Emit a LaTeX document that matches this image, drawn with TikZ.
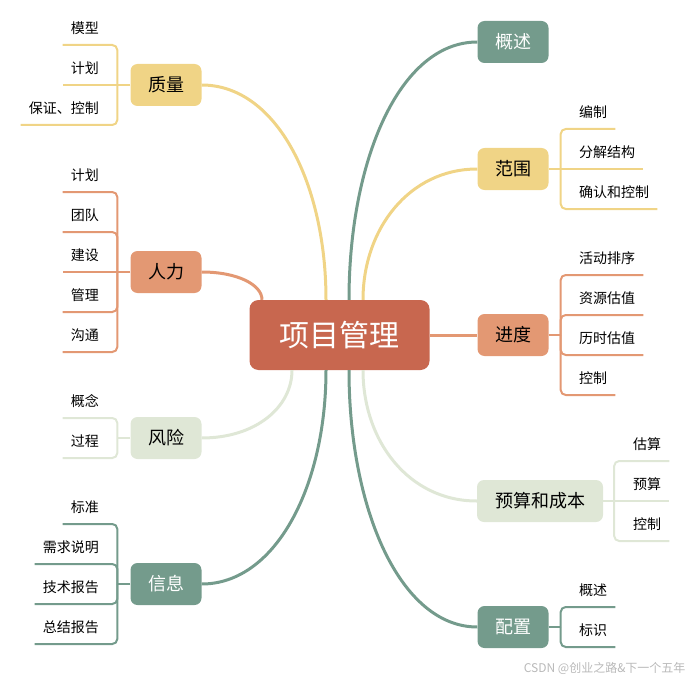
\documentclass[tikz,border=0pt]{standalone}
\usepackage{fontspec}
\setmainfont{Noto Sans CJK SC}
\usetikzlibrary{positioning}

\definecolor{rootc}{HTML}{C8674F}
\definecolor{yelc}{HTML}{F0D486}
\definecolor{orac}{HTML}{E39873}
\definecolor{grnc}{HTML}{749B8C}
\definecolor{palec}{HTML}{DFE7D6}

\begin{document}
\begin{tikzpicture}[x=1pt, y=-1pt,
    branch/.style={rounded corners=7pt, minimum width=71pt, minimum height=42pt, inner sep=0pt, font=\fontsize{18}{22}\selectfont},
    leafl/.style={anchor=south east, minimum height=34pt, inner xsep=8pt, inner ysep=0pt, font=\fontsize{14}{17}\selectfont},
    leafr/.style={leafl, anchor=south west},
    trunk/.style={line width=3pt},
    twig/.style={line width=2pt, rounded corners=5pt},
  ]
  \useasboundingbox (0,0) rectangle (696,682);

  \node[fill=rootc, text=white, rounded corners=9pt, minimum width=180pt, minimum height=70pt, font=\fontsize{30}{36}\selectfont] (root) at (339.5,335) {项目管理};

  % left branches
  \node[branch, fill=yelc]  (zl) at (166,85)  {质量};
  \node[branch, fill=orac]  (rl) at (166,272) {人力};
  \node[branch, fill=palec] (fx) at (166,438) {风险};
  \node[branch, fill=grnc, text=white] (xx) at (166,584) {信息};

  % right branches
  \node[branch, fill=grnc, text=white] (gs) at (513,42) {概述};
  \node[branch, fill=yelc]  (fw) at (513,169) {范围};
  \node[branch, fill=orac]  (jd) at (513,335) {进度};
  \node[branch, fill=palec, minimum width=126pt] (ys) at (540,501) {预算和成本};
  \node[branch, fill=grnc, text=white] (pz) at (513,627) {配置};

  % leaves
  \node[leafl] (zl1) at (107,45)  {模型};
  \node[leafl] (zl2) at (107,85)  {计划};
  \node[leafl] (zl3) at (107,125) {保证、控制};

  \node[leafl] (rl1) at (107,192) {计划};
  \node[leafl] (rl2) at (107,232) {团队};
  \node[leafl] (rl3) at (107,272) {建设};
  \node[leafl] (rl4) at (107,312) {管理};
  \node[leafl] (rl5) at (107,352) {沟通};

  \node[leafl] (fx1) at (107,418) {概念};
  \node[leafl] (fx2) at (107,458) {过程};

  \node[leafl] (xx1) at (107,524) {标准};
  \node[leafl] (xx2) at (107,564) {需求说明};
  \node[leafl] (xx3) at (107,604) {技术报告};
  \node[leafl] (xx4) at (107,644) {总结报告};

  \node[leafr] (fw1) at (571,129) {编制};
  \node[leafr] (fw2) at (571,169) {分解结构};
  \node[leafr] (fw3) at (571,209) {确认和控制};

  \node[leafr] (jd1) at (571,275) {活动排序};
  \node[leafr] (jd2) at (571,315) {资源估值};
  \node[leafr] (jd3) at (571,355) {历时估值};
  \node[leafr] (jd4) at (571,395) {控制};

  \node[leafr] (ys1) at (625,461) {估算};
  \node[leafr] (ys2) at (625,501) {预算};
  \node[leafr] (ys3) at (625,541) {控制};

  \node[leafr] (pz1) at (571,607) {概述};
  \node[leafr] (pz2) at (571,647) {标识};

  % trunk curves
  \coordinate (t1) at ([xshift=-13.5pt]root.north);
  \coordinate (t2) at ([xshift=9.5pt]root.north);
  \coordinate (t3) at ([xshift=23.5pt]root.north);
  \coordinate (t4) at ([xshift=-77.5pt]root.north);
  \coordinate (b1) at ([xshift=-47.5pt]root.south);
  \coordinate (b2) at ([xshift=-13.5pt]root.south);
  \coordinate (b3) at ([xshift=9.5pt]root.south);
  \coordinate (b4) at ([xshift=23.5pt]root.south);

  \draw[trunk, yelc]  (t1) .. controls +(0,-116) and +(75,0) .. (zl.east);
  \draw[trunk, grnc]  (t2) .. controls +(0,-139) and +(-78,0) .. (gs.west);
  \draw[trunk, yelc]  (t3) .. controls +(0,-71) and +(-68,0) .. (fw.west);
  \draw[trunk, orac]  (t4) .. controls +(0,-15) and +(36,0) .. (rl.east);
  \draw[trunk, orac]  (root.east) -- (jd.west);
  \draw[trunk, palec] (b1) .. controls +(0,37) and +(54,0) .. (fx.east);
  \draw[trunk, grnc]  (b2) .. controls +(0,116) and +(74,0) .. (xx.east);
  \draw[trunk, grnc]  (b3) .. controls +(0,139) and +(-77,0) .. (pz.west);
  \draw[trunk, palec] (b4) .. controls +(0,71) and +(-68,0) .. (ys.west);

  % twigs
  \draw[twig, yelc] (zl.west) -- ++(-13,0) coordinate (zlj);
  \draw[twig, yelc] (zlj) |- (zl1.south east) -- (zl1.south west);
  \draw[twig, yelc] (zlj) -- (zl2.south west);
  \draw[twig, yelc] (zlj) |- (zl3.south east) -- (zl3.south west);

  \draw[twig, orac] (rl.west) -- ++(-13,0) coordinate (rlj);
  \draw[twig, orac] (rlj) |- (rl1.south east) -- (rl1.south west);
  \draw[twig, orac] (rlj) |- (rl2.south east) -- (rl2.south west);
  \draw[twig, orac] (rlj) -- (rl3.south west);
  \draw[twig, orac] (rlj) |- (rl4.south east) -- (rl4.south west);
  \draw[twig, orac] (rlj) |- (rl5.south east) -- (rl5.south west);

  \draw[twig, palec] (fx.west) -- ++(-13,0) coordinate (fxj);
  \draw[twig, palec] (fxj) |- (fx1.south east) -- (fx1.south west);
  \draw[twig, palec] (fxj) |- (fx2.south east) -- (fx2.south west);

  \draw[twig, grnc] (xx.west) -- ++(-13,0) coordinate (xxj);
  \draw[twig, grnc] (xxj) |- (xx1.south east) -- (xx1.south west);
  \draw[twig, grnc] (xxj) |- (xx2.south east) -- (xx2.south west);
  \draw[twig, grnc] (xxj) |- (xx3.south east) -- (xx3.south west);
  \draw[twig, grnc] (xxj) |- (xx4.south east) -- (xx4.south west);

  \draw[twig, yelc] (fw.east) -- ++(12,0) coordinate (fwj);
  \draw[twig, yelc] (fwj) |- (fw1.south west) -- (fw1.south east);
  \draw[twig, yelc] (fwj) -- (fw2.south east);
  \draw[twig, yelc] (fwj) |- (fw3.south west) -- (fw3.south east);

  \draw[twig, orac] (jd.east) -- ++(12,0) coordinate (jdj);
  \draw[twig, orac] (jdj) |- (jd1.south west) -- (jd1.south east);
  \draw[twig, orac] (jdj) |- (jd2.south west) -- (jd2.south east);
  \draw[twig, orac] (jdj) |- (jd3.south west) -- (jd3.south east);
  \draw[twig, orac] (jdj) |- (jd4.south west) -- (jd4.south east);

  \draw[twig, palec] (ys.east) -- ++(11,0) coordinate (ysj);
  \draw[twig, palec] (ysj) |- (ys1.south west) -- (ys1.south east);
  \draw[twig, palec] (ysj) -- (ys2.south east);
  \draw[twig, palec] (ysj) |- (ys3.south west) -- (ys3.south east);

  \draw[twig, grnc] (pz.east) -- ++(12,0) coordinate (pzj);
  \draw[twig, grnc] (pzj) |- (pz1.south west) -- (pz1.south east);
  \draw[twig, grnc] (pzj) |- (pz2.south west) -- (pz2.south east);

  \node[anchor=east, text=gray!55, font=\fontsize{12}{14}\selectfont] (mark) at (689,668) {CSDN @创业之路\&下一个五年};
\end{tikzpicture}
\end{document}
